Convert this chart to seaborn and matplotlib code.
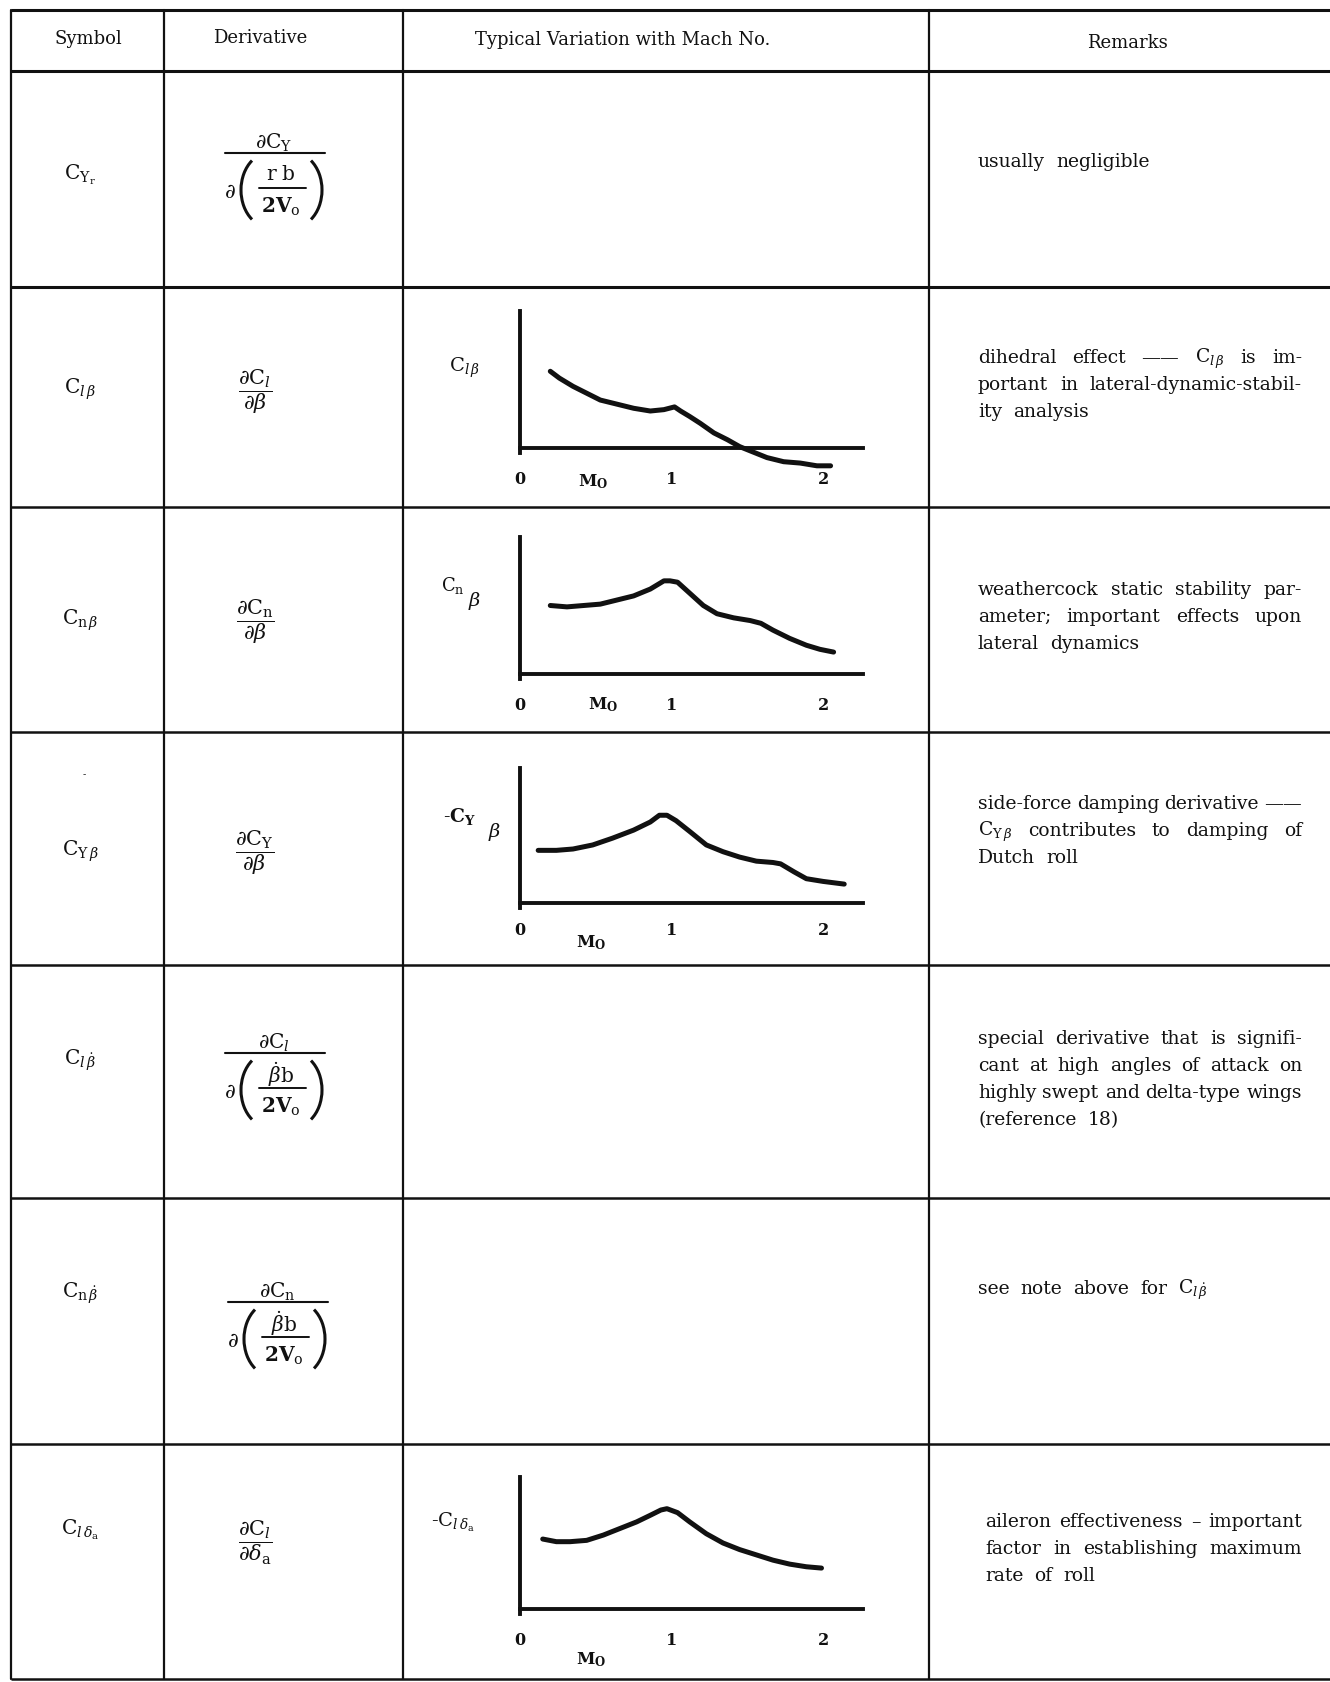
import matplotlib
matplotlib.use("Agg")
import matplotlib.pyplot as plt
from matplotlib.patches import Arc
import seaborn as sns
import numpy as np
import pandas as pd

# ---- table text -------------------------------------------------------
headers = ["Symbol", "Derivative", "Typical Variation with Mach No.", "Remarks"]

symbols = [
    r"$\mathrm{C}_{\mathrm{Y}_{\mathrm{r}}}$",
    r"$\mathrm{C}_{l\,\beta}$",
    r"$\mathrm{C}_{\mathrm{n}\,\beta}$",
    r"$\mathrm{C}_{\mathrm{Y}\,\beta}$",
    r"$\mathrm{C}_{l\,\dot{\beta}}$",
    r"$\mathrm{C}_{\mathrm{n}\,\dot{\beta}}$",
    r"$\mathrm{C}_{l\,\delta_{\mathrm{a}}}$",
]

# simple derivatives (rows 2, 3, 4, 7)
simple_derivs = {
    1: r"$\dfrac{\partial\mathrm{C}_{l}}{\partial\beta}$",
    2: r"$\dfrac{\partial\mathrm{C}_{\mathrm{n}}}{\partial\beta}$",
    3: r"$\dfrac{\partial\mathrm{C}_{\mathrm{Y}}}{\partial\beta}$",
    6: r"$\dfrac{\partial\mathrm{C}_{l}}{\partial\delta_{\mathrm{a}}}$",
}
# rate derivatives, written as  numerator / d( inner_num / inner_den )  (rows 1, 5, 6)
rate_derivs = {
    0: (r"$\partial\mathrm{C}_{\mathrm{Y}}$", r"$\mathrm{r\ b}$"),
    4: (r"$\partial\mathrm{C}_{l}$", r"$\dot{\beta}\mathrm{b}$"),
    5: (r"$\partial\mathrm{C}_{\mathrm{n}}$", r"$\dot{\beta}\mathrm{b}$"),
}
rate_den = r"$\mathbf{2V}_{\mathrm{o}}$"

remarks = [
    ["usually negligible"],
    ["dihedral effect —— $\\mathrm{C}_{l\\,\\beta}$ is im-",
     "portant in lateral-dynamic-stabil-",
     "ity analysis"],
    ["weathercock static stability par-",
     "ameter; important effects upon",
     "lateral dynamics"],
    ["side-force damping derivative ——",
     "$\\mathrm{C}_{\\mathrm{Y}\\,\\beta}$ contributes to damping of",
     "Dutch roll"],
    ["special derivative that is signifi-",
     "cant at high angles of attack on",
     "highly swept and delta-type wings",
     "(reference 18)"],
    ["see note above for  $\\mathrm{C}_{l\\,\\dot{\\beta}}$"],
    ["aileron effectiveness – important",
     "factor in establishing maximum",
     "rate of roll"],
]

# ---- curves (Mach number, relative value) -------
clb_mach = [0.20, 0.26, 0.35, 0.44, 0.53, 0.64, 0.75, 0.86, 0.95, 1.02, 1.06,
            1.12, 1.19, 1.28, 1.37, 1.45, 1.54, 1.63, 1.74, 1.85, 1.96, 2.05]
clb_val = [0.56, 0.51, 0.45, 0.40, 0.35, 0.32, 0.29, 0.27, 0.28, 0.30, 0.27,
           0.23, 0.18, 0.11, 0.06, 0.01, -0.03, -0.07, -0.10, -0.11, -0.13, -0.13]

cnb_mach = [0.20, 0.31, 0.42, 0.53, 0.64, 0.75, 0.86, 0.95, 0.99, 1.04, 1.12,
            1.21, 1.30, 1.41, 1.52, 1.59, 1.67, 1.78, 1.89, 1.98, 2.07]
cnb_val = [0.50, 0.49, 0.50, 0.51, 0.54, 0.57, 0.62, 0.68, 0.68, 0.67, 0.59,
           0.50, 0.44, 0.41, 0.39, 0.37, 0.32, 0.26, 0.21, 0.18, 0.16]

cyb_mach = [0.12, 0.24, 0.35, 0.48, 0.61, 0.75, 0.86, 0.92, 0.97, 1.03, 1.12,
            1.23, 1.34, 1.45, 1.56, 1.67, 1.72, 1.81, 1.89, 2.00, 2.14]
cyb_val = [0.39, 0.39, 0.40, 0.43, 0.48, 0.54, 0.60, 0.65, 0.65, 0.61, 0.53,
           0.43, 0.38, 0.34, 0.31, 0.30, 0.29, 0.23, 0.18, 0.16, 0.14]

clda_mach = [0.15, 0.24, 0.33, 0.44, 0.55, 0.66, 0.77, 0.86, 0.93, 0.97, 1.04,
             1.12, 1.23, 1.34, 1.45, 1.56, 1.67, 1.78, 1.89, 1.99]
clda_val = [0.53, 0.51, 0.51, 0.52, 0.56, 0.61, 0.66, 0.71, 0.75, 0.76, 0.73,
            0.66, 0.57, 0.50, 0.45, 0.41, 0.37, 0.34, 0.32, 0.31]

tick_values = [0, 1, 2]
tick_labels = ["0", "1", "2"]

# ---- layout (pixels of the 1330x1683 page) ----------------------------
W, H = 1330, 1683
INK = "#111111"
row_lines = [11, 72, 288, 508, 733, 966, 1199, 1445, 1680]
col_lines = [11, 164, 403, 929]
sym_y = [175, 389, 620, 851, 1060, 1293, 1530]
simple_xy = {1: (255, 392), 2: (255, 622), 3: (255, 853), 6: (255, 1543)}
rate_anchor = {0: (225, 154), 4: (225, 1054), 5: (228, 1303)}
rem_y = [167, 363, 595, 809, 1044, 1294, 1527]

sns.set_style("white")
plt.rcParams["font.family"] = ["DejaVu Serif"]
plt.rcParams["mathtext.fontset"] = "dejavuserif"

fig = plt.figure(figsize=(W / 100, H / 100), dpi=100)
bg = fig.add_axes([0, 0, 1, 1])
bg.set_xlim(0, W)
bg.set_ylim(H, 0)
bg.axis("off")

# table rules
for i, y in enumerate(row_lines):
    bg.plot([col_lines[0], W], [y, y], color=INK, lw=2.2 if i in (0, 1, 2) else 1.8,
            solid_capstyle="butt")
for x in col_lines:
    bg.plot([x, x], [row_lines[0], row_lines[-1]], color=INK, lw=1.6)

# headers
head_xy = [(88, 39), (260, 38), (623, 40), (1127, 43)]
for txt, (x, y) in zip(headers, head_xy):
    bg.text(x, y, txt, ha="center", va="center", fontsize=13, color=INK)

for s, y in zip(symbols, sym_y):
    bg.text(80, y, s, ha="center", va="center", fontsize=14.5, color=INK)
bg.text(84, 775, "-", ha="center", va="center", fontsize=7, color=INK)

for k, d in simple_derivs.items():
    x, y = simple_xy[k]
    bg.text(x, y, d, ha="center", va="center", fontsize=15, color=INK)


def rate_fraction(num, inner, L, B):
    kw = dict(ha="center", va="center", color=INK)
    bg.text(L + 49, B - 11, num, fontsize=14.5, **kw)
    bg.plot([L, L + 100], [B, B], color=INK, lw=1.5)
    bg.text(L + 5, B + 39, r"$\partial$", fontsize=15, **kw)
    bg.add_patch(Arc((L + 44, B + 37), 56, 74, theta1=120, theta2=240, color=INK, lw=2.2))
    bg.add_patch(Arc((L + 69, B + 37), 56, 74, theta1=-60, theta2=60, color=INK, lw=2.2))
    bg.text(L + 56, B + 21, inner, fontsize=14.5, **kw)
    bg.plot([L + 34, L + 81], [B + 35, B + 35], color=INK, lw=1.4)
    bg.text(L + 56, B + 53, rate_den, fontsize=14.5, **kw)


for k, (num, inner) in rate_derivs.items():
    rate_fraction(num, inner, *rate_anchor[k])

renderer = fig.canvas.get_renderer()


def justified(lines, x0, x1, y, fs=13.5, dy=27, gap=11):
    for i, line in enumerate(lines):
        words = line.split()
        objs = [bg.text(0, y + i * dy, w, fontsize=fs, va="baseline", ha="left", color=INK)
                for w in words]
        widths = [o.get_window_extent(renderer).width for o in objs]
        if i == len(lines) - 1 or len(words) == 1:
            g = gap
        else:
            g = (x1 - x0 - sum(widths)) / (len(words) - 1)
        x = x0
        for o, w in zip(objs, widths):
            o.set_x(x)
            x += w + g


for k, (lines, y) in enumerate(zip(remarks, rem_y)):
    x0 = 985 if k == 6 else 978
    justified(lines, x0, 1302, y)

# ---- the little Mach-number sketches ----------------------------------
charts = [
    dict(mach=clb_mach, val=clb_val, axis_y=449, top_y=312, ymin=-0.2, pad=12, mo=(0.48, 33)),
    dict(mach=cnb_mach, val=cnb_val, axis_y=675, top_y=538, ymin=-0.05, pad=12, mo=(0.55, 30)),
    dict(mach=cyb_mach, val=cyb_val, axis_y=904, top_y=769, ymin=-0.05, pad=9, mo=(0.47, 39)),
    dict(mach=clda_mach, val=clda_val, axis_y=1610, top_y=1478, ymin=-0.05, pad=12, mo=(0.47, 50)),
]
x_left, x_right, xmax = 520, 863, 2.264

for c in charts:
    unit = c["axis_y"] - c["top_y"]
    bottom_px = c["axis_y"] - c["ymin"] * unit
    ax = fig.add_axes([x_left / W, 1 - bottom_px / H, (x_right - x_left) / W,
                       (bottom_px - c["top_y"]) / H])
    ax.patch.set_alpha(0)
    df = pd.DataFrame({"M": c["mach"], "v": c["val"]})
    sns.lineplot(data=df, x="M", y="v", ax=ax, color=INK, lw=3.6, sort=False,
                 clip_on=False, solid_capstyle="round", solid_joinstyle="round")
    ax.set_xlim(0, xmax)
    ax.set_ylim(c["ymin"], 1)
    for side in ("top", "right"):
        ax.spines[side].set_visible(False)
    ax.spines["bottom"].set_position(("data", 0))
    ax.spines["left"].set_bounds(-0.035, 1)
    for side in ("bottom", "left"):
        ax.spines[side].set_linewidth(2.8)
        ax.spines[side].set_color(INK)
    ax.set_yticks([])
    ax.set_xticks(tick_values)
    ax.set_xticklabels(tick_labels, fontweight="bold", fontsize=11.5, color=INK)
    ax.tick_params(axis="x", direction="out", length=4, width=2.4, color=INK, pad=c["pad"])
    ax.set_xlabel("")
    ax.set_ylabel("")
    mx, mdy = c["mo"]
    ax.text(mx, -mdy / unit, r"$\mathbf{M}_{\mathbf{O}}$", ha="center", va="center",
            fontsize=12, color=INK, clip_on=False)

# axis names of the sketches
bg.text(449, 372, r"$\mathrm{C}_{l\,\beta}$", fontsize=14, color=INK, va="baseline")
bg.text(441, 591, r"$\mathrm{C}_{\mathrm{n}}$", fontsize=13, color=INK, va="baseline")
bg.text(468, 606, r"$\beta$", fontsize=14, color=INK, va="baseline")
bg.text(443, 822, r"-$\mathbf{C}_{\mathbf{Y}}$", fontsize=13.5, color=INK, va="baseline")
bg.text(488, 837, r"$\beta$", fontsize=14, color=INK, va="baseline")
bg.text(431, 1527, r"-$\mathrm{C}_{l\,\delta_{\mathrm{a}}}$", fontsize=14, color=INK, va="baseline")

fig.savefig("out.png", dpi=100, facecolor="white")
